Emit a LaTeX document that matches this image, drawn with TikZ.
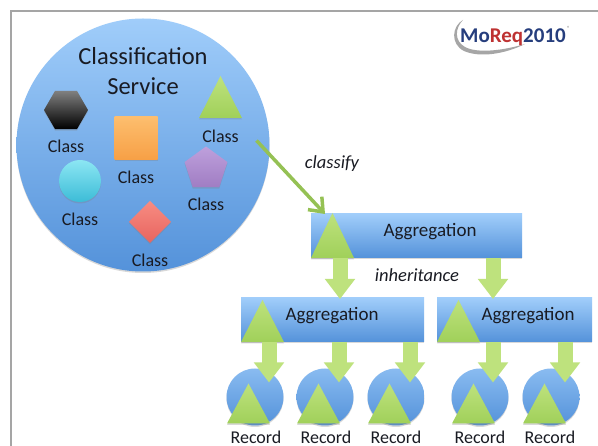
\documentclass[tikz,border=0pt]{standalone}
\usepackage{fontspec}
\setmainfont{Carlito}
\usetikzlibrary{shapes,arrows,arrows.meta,shadows,calc}
\usetikzlibrary{positioning}
\definecolor{clrBorders}{RGB}{165,165,165}
\definecolor{clrGreenTop}{RGB}{190,226,125}
\definecolor{clrGreenBot}{RGB}{160,208,90}
\definecolor{clrBlueTop}{RGB}{160,205,250}
\definecolor{clrBlueBot}{RGB}{84,146,218}
\definecolor{clrText}{RGB}{25,27,35}
\definecolor{clrLogoBlue}{RGB}{38,62,125}
\definecolor{clrLogoRed}{RGB}{190,50,50}
\definecolor{clrOrangeTop}{RGB}{253,190,110}
\definecolor{clrOrangeBot}{RGB}{247,160,70}
\definecolor{clrCyanTop}{RGB}{140,230,243}
\definecolor{clrCyanBot}{RGB}{60,188,215}
\definecolor{clrVioletTop}{RGB}{190,160,220}
\definecolor{clrVioletBot}{RGB}{160,125,195}
\definecolor{clrRedTop}{RGB}{247,140,130}
\definecolor{clrRedBot}{RGB}{232,100,95}
\tikzstyle{softshadow}=[drop shadow={shadow xshift=0pt,shadow yshift=-1.5pt,opacity=.3}]
\tikzstyle{shape_style}=[inner sep=0pt, outer sep=0pt, softshadow]
\tikzstyle{service}=[shape_style, circle, minimum size=253pt, top color=clrBlueTop, bottom color=clrBlueBot]
\tikzstyle{aggbox}=[shape_style, rectangle, minimum height=44pt, top color=clrBlueTop, bottom color=clrBlueBot]
\tikzstyle{recordball}=[shape_style, circle, minimum size=57pt, top color=clrBlueTop!70!clrBlueBot, bottom color=clrBlueBot]
\tikzstyle{greentri}=[shape_style, isosceles triangle, shape border rotate=90, isosceles triangle stretches,
minimum width=43pt, minimum height=42pt, top color=clrGreenTop, bottom color=clrGreenBot, anchor=left corner]
\tikzstyle{classlabel}=[inner sep=0pt, text=clrText, font=\fontsize{18}{18}\selectfont]
\tikzstyle{biglabel}=[inner sep=0pt, text=clrText, font=\fontsize{19}{19}\selectfont]
\tikzstyle{titlelabel}=[inner sep=0pt, text=clrText, font=\fontsize{24.5}{24.5}\selectfont]
\tikzstyle{blockarrow}=[-{Triangle[length=20pt,width=29pt]}, line width=15pt, draw=clrGreenTop]
\tikzstyle{classifyarrow}=[-{Straight Barb[length=12pt,width=19pt]}, line width=3.5pt, draw=clrGreenBot!93!black]

\begin{document}
\begin{tikzpicture}[x=1pt,y=-1pt,node distance=11pt]
	\useasboundingbox (0,0) rectangle (598,446);
	\fill[white] (0,0) rectangle (598,446);
	\draw[clrBorders, line width=2pt] (11,446) -- (11,11) -- (598,11);

	% classification service
	\node[service] (S) at (143,145) {};
	\node[titlelabel] (T1) at (143,56) {Classification};
	\node[titlelabel] (T2) at (143,86) {Service};

	\node[shape_style, regular polygon, regular polygon sides=6, minimum size=44pt, top color=black!50, bottom color=black] (hex) at (66,110) {};
	\node[classlabel, below=of hex] (Lhex) {Class};

	\node[shape_style, rectangle, minimum size=43pt, top color=clrOrangeTop, bottom color=clrOrangeBot] (sq) at (136,138) {};
	\node[classlabel, below=of sq] (Lsq) {Class};

	\node[shape_style, circle, minimum size=42pt, top color=clrCyanTop, bottom color=clrCyanBot] (ball) at (80,181) {};
	\node[classlabel, below=of ball] (Lball) {Class};

	\node[shape_style, regular polygon, regular polygon sides=5, minimum size=45pt, top color=clrVioletTop, bottom color=clrVioletBot] (penta) at (206,169) {};
	\node[classlabel, below=of penta] (Lpenta) {Class};

	\node[shape_style, diamond, minimum width=42pt, minimum height=42pt, top color=clrRedTop, bottom color=clrRedBot] (dia) at (150,222) {};
	\node[classlabel, below=of dia] (Ldia) {Class};

	\node[greentri] (tri) at (199,118) {};
	\node[classlabel, below=12pt of tri.lower side] (Ltri) {Class};

	% aggregations
	\node[aggbox, minimum width=211pt, anchor=north west] (aggT) at (311,214) {};
	\node[aggbox, minimum width=183pt, anchor=north west] (aggL) at (241,298) {};
	\node[aggbox, minimum width=155pt, right=13pt of aggL] (aggR) {};
	\node[biglabel] (LaggT) at (430,232) {Aggregation};
	\node[biglabel] (LaggL) at (332,316) {Aggregation};
	\node[biglabel] (LaggR) at (528,316) {Aggregation};
	\node[greentri, minimum height=45pt] (triT) at (aggT.south west) {};
	\node[greentri] (triL) at (aggL.south west) {};
	\node[greentri] (triR) at (aggR.south west) {};

	% records
	\node[recordball] (recA) at (255,397) {};
	\node[recordball, right=13pt of recA] (recB) {};
	\node[recordball, right=14pt of recB] (recC) {};
	\node[recordball, right=27pt of recC] (recD) {};
	\node[recordball, right=14pt of recD] (recE) {};
	\node[greentri, minimum height=40pt] (triA) at ([xshift=-28pt,yshift=2pt]recA.south) {};
	\node[greentri, minimum height=40pt] (triB) at ([xshift=-28pt,yshift=2pt]recB.south) {};
	\node[greentri, minimum height=40pt] (triC) at ([xshift=-28pt,yshift=2pt]recC.south) {};
	\node[greentri, minimum height=40pt] (triD) at ([xshift=-28pt,yshift=2pt]recD.south) {};
	\node[greentri, minimum height=40pt] (triE) at ([xshift=-28pt,yshift=2pt]recE.south) {};
	\node[classlabel] (LrecA) at (256,437) {Record};
	\node[classlabel] (LrecB) at (326,437) {Record};
	\node[classlabel] (LrecC) at (396,437) {Record};
	\node[classlabel] (LrecD) at (480,437) {Record};
	\node[classlabel] (LrecE) at (550,437) {Record};

	% inherited arrows
	\coordinate (tipL) at (340,299);
	\coordinate (tipR) at (493,299);
	\coordinate (tipA) at ([xshift=14pt,yshift=-14pt]recA.north);
	\coordinate (tipB) at ([xshift=14pt,yshift=-14pt]recB.north);
	\coordinate (tipC) at ([xshift=14pt,yshift=-14pt]recC.north);
	\coordinate (tipD) at ([xshift=13pt,yshift=-14pt]recD.north);
	\coordinate (tipE) at ([xshift=14pt,yshift=-14pt]recE.north);
	\draw[blockarrow] (aggT.south -| tipL) -- (tipL);
	\draw[blockarrow] (aggT.south -| tipR) -- (tipR);
	\draw[blockarrow] (aggL.south -| tipA) -- (tipA);
	\draw[blockarrow] (aggL.south -| tipB) -- (tipB);
	\draw[blockarrow] (aggL.south -| tipC) -- (tipC);
	\draw[blockarrow] (aggR.south -| tipD) -- (tipD);
	\draw[blockarrow] (aggR.south -| tipE) -- (tipE);

	\coordinate (classifyFrom) at ([xshift=36pt,yshift=-4pt]Ltri.center);
	\draw[classifyarrow] (classifyFrom) -- ([xshift=14pt]aggT.north west);
	\node[classlabel, font=\fontsize{18.5}{18.5}\selectfont\itshape] (Lclassify) at (332,164) {classify};
	\node[classlabel, font=\fontsize{18.5}{18.5}\selectfont\itshape] (Linherit) at (417,275) {inheritance};

	% logo
	\fill[black!35] (463,20) .. controls (452,26) and (450,44) .. (464,51) .. controls (480,58) and (505,54) .. (525,44) .. controls (505,50) and (478,54) .. (465,47) .. controls (454,41) and (455,28) .. (463,20);
	\node[inner sep=0pt, font=\fontsize{21}{21}\selectfont\bfseries] (logo) at (513,37) {\textcolor{clrLogoBlue}{Mo}\textcolor{clrLogoRed}{Req}\textcolor{clrLogoBlue}{2010}};
	\node[inner sep=0pt, text=black!50, font=\fontsize{6}{6}\selectfont, right=1pt of logo.north east] (logoR) {®};
\end{tikzpicture}
\end{document}
